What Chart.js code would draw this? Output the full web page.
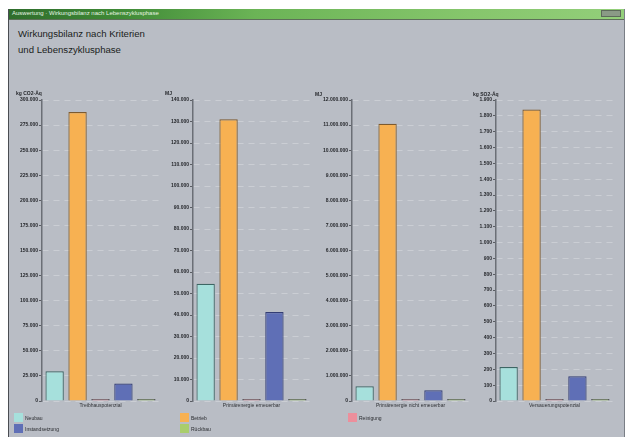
<!DOCTYPE html>
<html lang="de">
<head>
<meta charset="utf-8">
<title>Wirkungsbilanz nach Kriterien und Lebenszyklusphase</title>
<script src="https://cdn.jsdelivr.net/npm/chart.js@4.4.1/dist/chart.umd.min.js"></script>
<style>
  html, body { margin: 0; padding: 0; background: #ffffff; }
  body { width: 628px; height: 437px; position: relative; overflow: hidden; font-family: "Liberation Sans", Arial, sans-serif; }
  #win { position: absolute; left: 8px; top: 9px; width: 617px; height: 428px; background: #b9bdc5;
         border-left: 1px solid #4a4d52; border-right: 1px solid #7a7e86; box-sizing: border-box; }
  #bar { position: absolute; left: 0; top: 0; right: 0; height: 10px;
         background: linear-gradient(to right, #2f6d2c 0%, #3f8a36 18%, #6bb456 40%, #86c66c 75%, #93cf7a 100%);
         border-bottom: 1px solid #5d6f58; }
  #bar span { position: absolute; left: 3px; top: 1px; font-size: 6px; color: #e8f3e4; white-space: nowrap; }
  #btns { position: absolute; right: 3px; top: 1px; width: 20px; height: 7px; background: #8a9a86; border: 1px solid #5d6b5a; box-sizing: border-box; }
  .title { position: absolute; left: 9px; font-size: 9.6px; color: #1b1d21; white-space: nowrap; }
  .unit { position: absolute; font-size: 5px; font-weight: bold; color: #26282c; white-space: nowrap; }
  canvas { position: absolute; }
  .leg { position: absolute; font-size: 5px; color: #2a2c30; white-space: nowrap; }
  .leg i { position: absolute; left: 0; width: 9px; height: 9px; }
  .leg b { position: absolute; left: 11px; top: 2px; font-weight: normal; }
</style>
</head>
<body>
<div id="win">
  <div id="bar"><span>Auswertung · Wirkungsbilanz nach Lebenszyklusphase</span><div id="btns"></div></div>
  <div class="title" style="top:19px">Wirkungsbilanz nach Kriterien</div>
  <div class="title" style="top:35px">und Lebenszyklusphase</div>
</div>
<div id="charts"></div>
<div id="legend"></div>

<script>
// Indicators (one small chart each) and their units
const indicators = ['Treibhauspotenzial', 'Primärenergie erneuerbar', 'Primärenergie nicht erneuerbar', 'Versauerungspotenzial'];
const units = ['kg CO2-Äq', 'MJ', 'MJ', 'kg SO2-Äq'];

// Life cycle phases (datasets), in drawing order
const phases = ['Neubau', 'Betrieb', 'Reinigung', 'Instandsetzung', 'Rückbau'];

// Values per phase, one entry per indicator
const neubau         = [29600, 54500, 590000, 215];
const betrieb        = [288000, 131000, 11050000, 1840];
const reinigung      = [0, 0, 0, 0];
const instandsetzung = [17400, 41400, 430000, 156];
const rueckbau       = [0, 0, 0, 0];

// Value axis range and tick step per indicator
const axisMax  = [300000, 140000, 12000000, 1900];
const axisStep = [25000, 10000, 1000000, 100];

const series = [neubau, betrieb, reinigung, instandsetzung, rueckbau];
const fills   = ['#a6e0dc', '#f7b152', '#ec8f9c', '#5f6fb6', '#a9cd6c'];
const borders = ['#3d6664', '#7d5a2e', '#46484e', '#333d74', '#46484e'];

// Panel geometry: axis position, plot right edge, room for tick labels
const axisX  = [42, 193, 352, 496];
const plotR  = [159, 310, 469, 613];
const labelW = [40, 30, 45, 30];
const unitPos = [[16, 90], [165, 90], [315, 91], [473, 91]];

function fmt(v) {
  return String(Math.round(v)).replace(/\B(?=(\d{3})+(?!\d))/g, '.');
}

const holder = document.getElementById('charts');
indicators.forEach((ind, i) => {
  const cv = document.createElement('canvas');
  const left = axisX[i] - labelW[i];
  const width = plotR[i] - left;
  cv.width = width; cv.height = 325;
  cv.style.left = left + 'px'; cv.style.top = '88px';
  cv.style.width = width + 'px'; cv.style.height = '325px';
  holder.appendChild(cv);

  const u = document.createElement('div');
  u.className = 'unit';
  u.textContent = units[i];
  u.style.left = unitPos[i][0] + 'px'; u.style.top = unitPos[i][1] + 'px';
  holder.appendChild(u);

  new Chart(cv.getContext('2d'), {
    type: 'bar',
    data: {
      labels: [ind],
      datasets: phases.map((p, k) => ({
        label: p,
        data: [series[k][i]],
        backgroundColor: fills[k],
        borderColor: borders[k],
        borderWidth: 1.2,
        minBarLength: 2,
        categoryPercentage: 0.98,
        barPercentage: 0.8
      }))
    },
    options: {
      responsive: false,
      animation: false,
      devicePixelRatio: 1,
      layout: { padding: { top: 12, right: 0, bottom: 0, left: 0 } },
      plugins: { legend: { display: false }, tooltip: { enabled: false } },
      scales: {
        x: {
          grid: { display: false, drawTicks: false },
          border: { display: false },
          ticks: { font: { family: 'Liberation Sans', size: 5 }, color: '#2e3034', padding: 2, maxRotation: 0 },
          afterFit(s) { s.height = 12; }
        },
        y: {
          min: 0,
          max: axisMax[i],
          ticks: {
            stepSize: axisStep[i],
            callback: v => fmt(v),
            font: { family: 'Liberation Sans', size: 5, weight: 'bold' },
            color: '#26282c',
            padding: 1
          },
          grid: { color: '#cbced4', lineWidth: 1, tickColor: '#5a5d63', tickLength: 3 },
          border: { display: true, color: '#6b6f76', width: 1.5, dash: [6, 5] },
          afterFit(s) { s.width = labelW[i]; }
        }
      }
    }
  });
});

// Legend, three columns
const legendPos = [[14, 413], [180, 413], [348, 413], [14, 424], [180, 424]];
const legend = document.getElementById('legend');
phases.forEach((p, k) => {
  const d = document.createElement('div');
  d.className = 'leg';
  d.style.left = legendPos[k][0] + 'px';
  d.style.top = legendPos[k][1] + 'px';
  d.innerHTML = '<i style="background:' + fills[k] + '"></i><b>' + p + '</b>';
  legend.appendChild(d);
});
</script>
</body>
</html>
